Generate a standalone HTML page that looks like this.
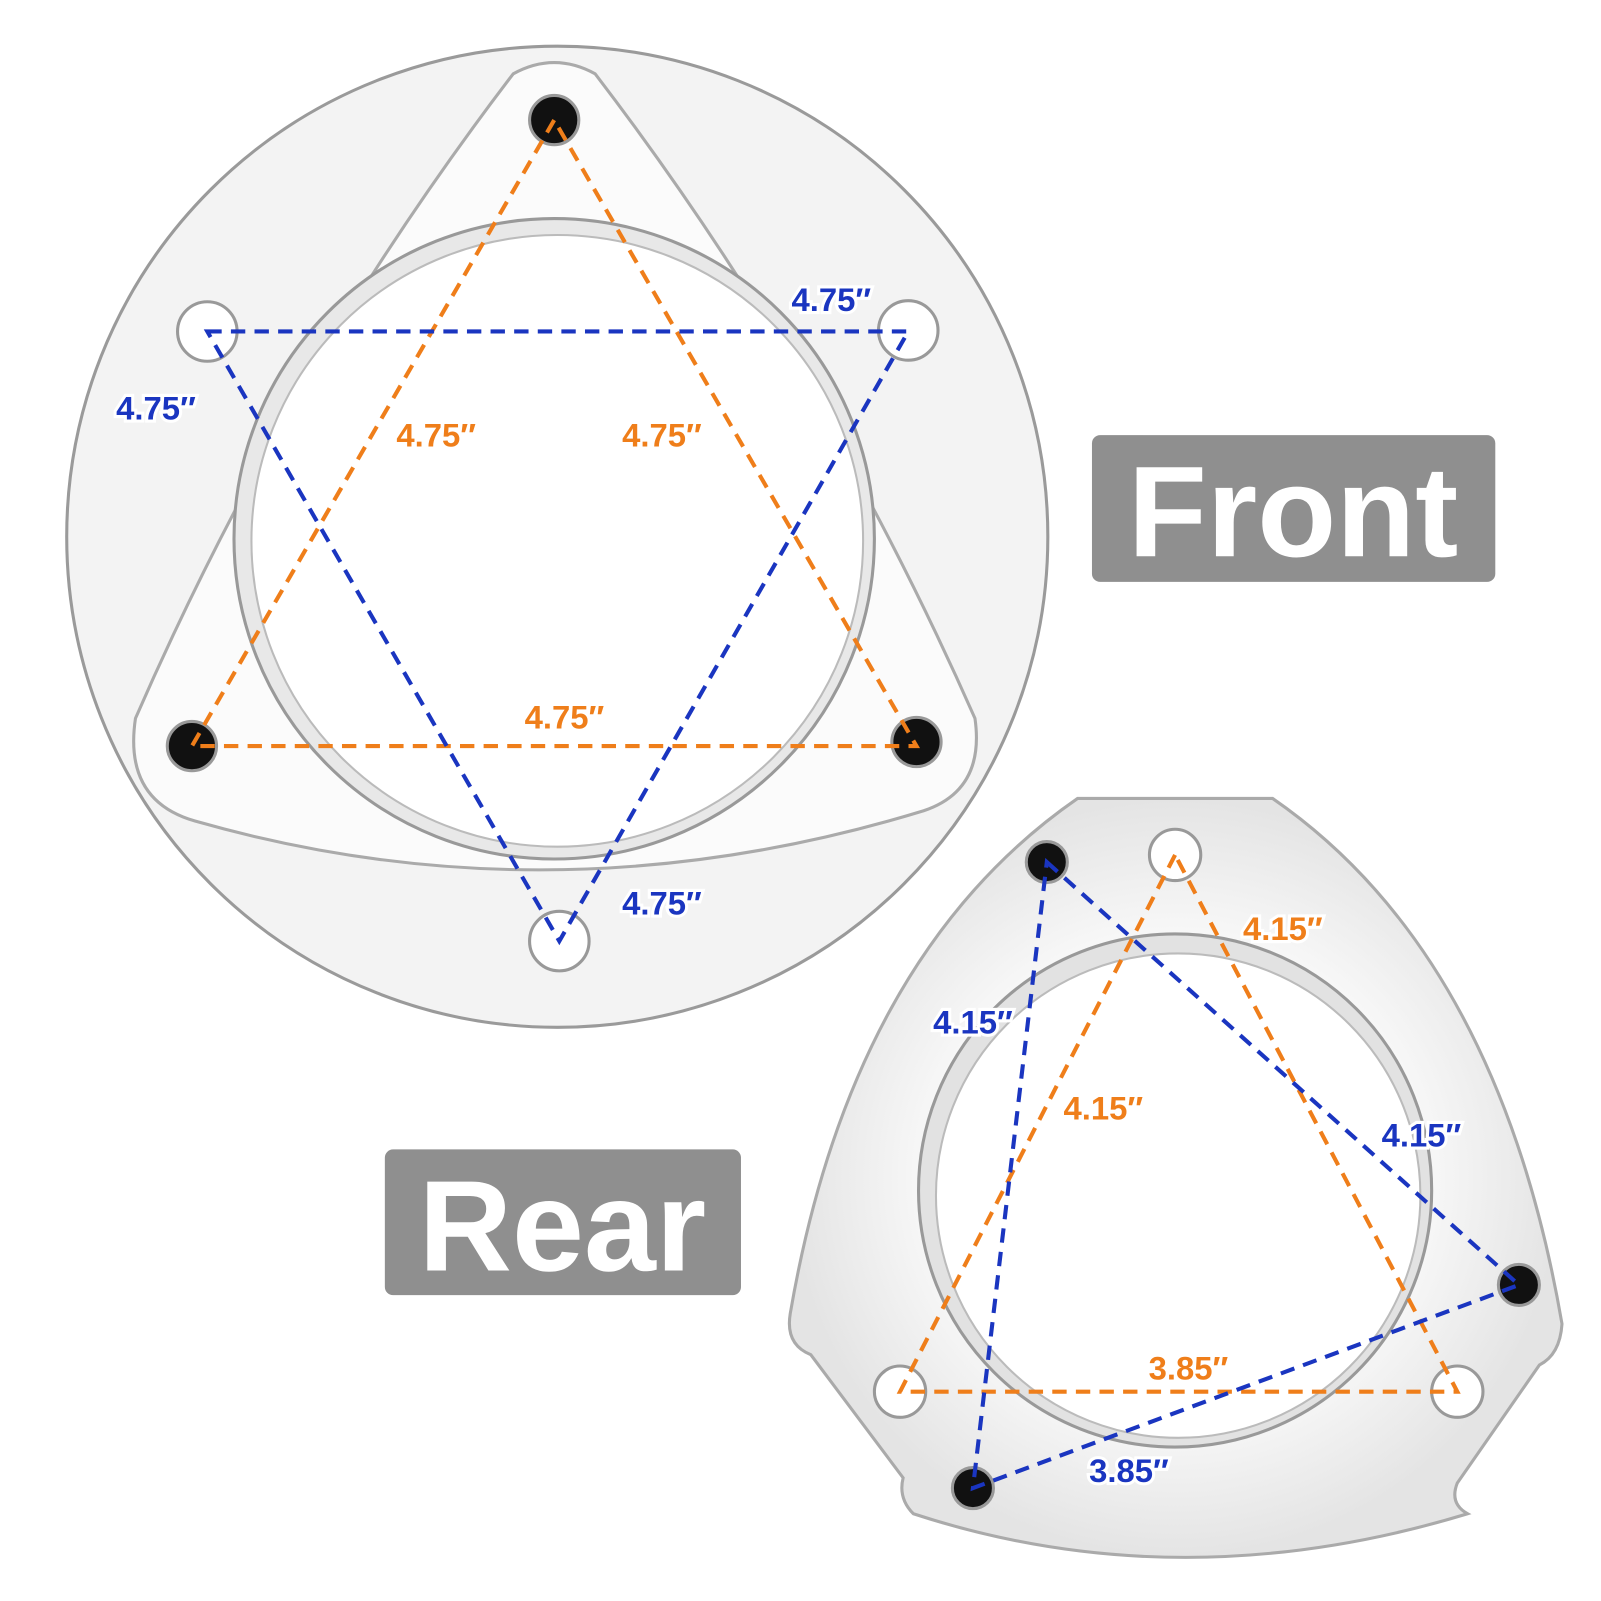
<!DOCTYPE html>
<html><head><style>html,body{margin:0;padding:0;background:#fff}svg{display:block}</style></head>
<body>
<svg width="1601" height="1601" viewBox="0 0 1560 1560" xmlns="http://www.w3.org/2000/svg" font-family="Liberation Sans, sans-serif" font-weight="bold">
<defs>
<radialGradient id="g" cx="50%" cy="50%" r="50%"><stop offset="0.6" stop-color="#fafafa"/><stop offset="1" stop-color="#e4e4e4"/></radialGradient>
</defs>
<!-- Front -->
<circle cx="543" cy="523" r="478" fill="#f3f3f3" stroke="#9a9a9a" stroke-width="3"/>
<path d="M500 72 Q540 50 580 72 Q800 360 950 700 Q960 770 900 790 Q540 900 190 800 Q120 780 132 700 Q280 360 500 72 Z" fill="#fbfbfb" stroke="#aaa" stroke-width="3"/>
<circle cx="540" cy="525" r="312" fill="#e8e8e8" stroke="#999" stroke-width="3"/>
<circle cx="543" cy="527" r="298" fill="#fff" stroke="#bbb" stroke-width="2"/>
<g stroke="#999" stroke-width="3">
<circle cx="540" cy="117" r="24" fill="#111"/><circle cx="187" cy="727" r="24" fill="#111"/><circle cx="893" cy="723" r="24" fill="#111"/>
<circle cx="202" cy="323" r="29" fill="#fff"/><circle cx="885" cy="322" r="29" fill="#fff"/><circle cx="545" cy="917" r="29" fill="#fff"/>
</g>
<g fill="none" stroke-width="4" stroke-dasharray="14 9">
<path d="M540 117 L187 727 L893 727 Z" stroke="#ef7e1a"/>
<path d="M202 323 L885 323 L545 917 Z" stroke="#1a35c0"/>
</g>
<!-- Rear -->
<path d="M1050 778 L1240 778 Q1460 930 1522 1290 Q1520 1320 1500 1330 L1420 1445 Q1412 1465 1430 1475 Q1150 1560 890 1475 Q875 1460 880 1440 L790 1320 Q765 1310 770 1280 Q830 930 1050 778 Z" fill="url(#g)" stroke="#aaa" stroke-width="3"/>
<circle cx="1145" cy="1160" r="250" fill="#e2e2e2" stroke="#999" stroke-width="3"/>
<circle cx="1148" cy="1165" r="236" fill="#fff" stroke="#bbb" stroke-width="2"/>
<g stroke="#999" stroke-width="3">
<circle cx="1020" cy="840" r="20" fill="#111"/><circle cx="1480" cy="1252" r="20" fill="#111"/><circle cx="948" cy="1450" r="20" fill="#111"/>
<circle cx="1145" cy="833" r="25" fill="#fff"/><circle cx="877" cy="1356" r="25" fill="#fff"/><circle cx="1420" cy="1356" r="25" fill="#fff"/>
</g>
<g fill="none" stroke-width="4" stroke-dasharray="14 9">
<path d="M1145 833 L877 1356 L1420 1356 Z" stroke="#ef7e1a"/>
<path d="M1020 840 L1480 1252 L948 1450 Z" stroke="#1a35c0"/>
</g>
<!-- labels -->
<g font-size="32" text-anchor="middle" stroke="#fff" stroke-width="6" paint-order="stroke">
<g fill="#1a35c0">
<text x="810" y="303">4.75″</text><text x="152" y="409">4.75″</text><text x="645" y="891">4.75″</text>
<text x="948" y="1007">4.15″</text><text x="1385" y="1117">4.15″</text><text x="1100" y="1444">3.85″</text>
</g>
<g fill="#ef7e1a">
<text x="425" y="435">4.75″</text><text x="645" y="435">4.75″</text><text x="550" y="710">4.75″</text>
<text x="1250" y="916">4.15″</text><text x="1075" y="1091">4.15″</text><text x="1158" y="1344">3.85″</text>
</g>
</g>
<rect x="1064" y="424" width="393" height="143" rx="8" fill="#8f8f8f"/>
<text x="1260" y="542" font-size="126" fill="#fff" text-anchor="middle">Front</text>
<rect x="375" y="1120" width="347" height="142" rx="8" fill="#8f8f8f"/>
<text x="548" y="1238" font-size="126" fill="#fff" text-anchor="middle">Rear</text>
</svg>
</body></html>
